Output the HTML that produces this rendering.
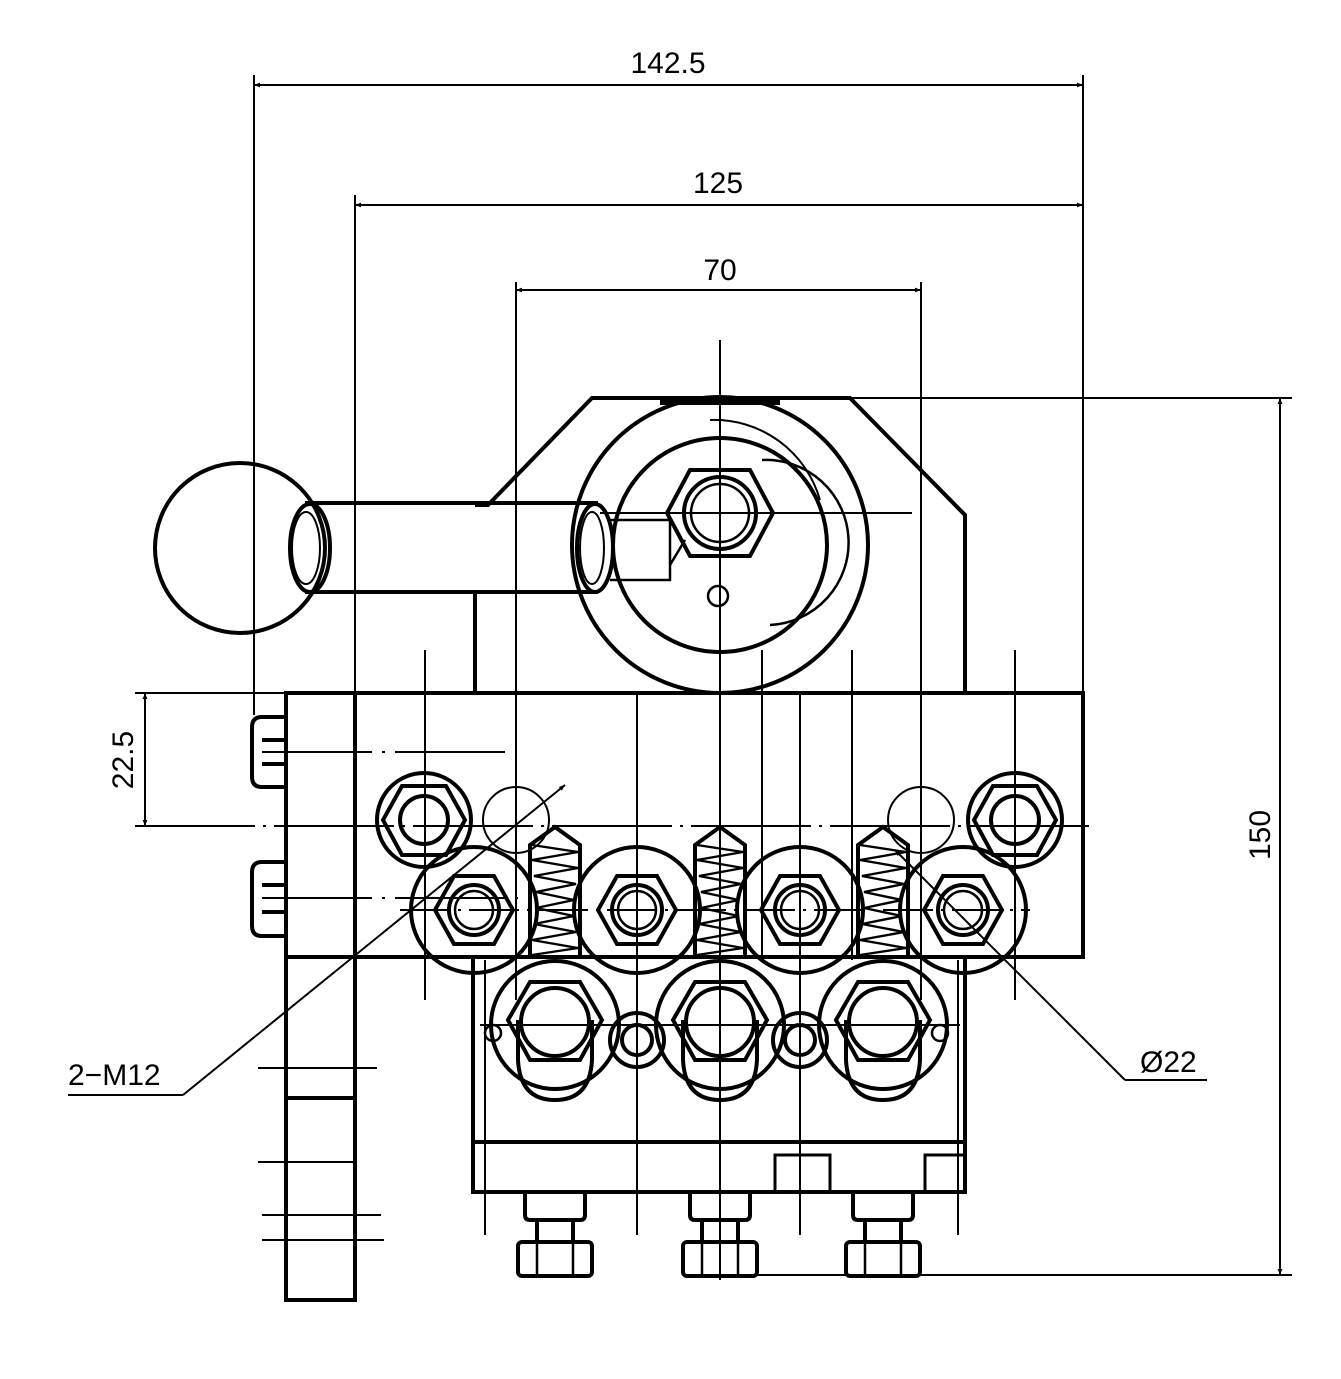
<!DOCTYPE html>
<html><head><style>html,body{margin:0;padding:0;background:#fff}svg{display:block}</style></head>
<body>
<svg width="1341" height="1379" viewBox="0 0 1341 1379" xmlns="http://www.w3.org/2000/svg" fill="none" stroke="#000" font-family="Liberation Sans, sans-serif">
<defs>
<marker id="a" viewBox="0 0 10 10" refX="10" refY="5" markerWidth="14" markerHeight="6" orient="auto-start-reverse" markerUnits="userSpaceOnUse"><path d="M0,1 L10,5 L0,9 Z" fill="#000" stroke="none"/></marker>
</defs>
<g stroke-width="2">
<line x1="254" y1="85" x2="1083" y2="85" marker-start="url(#a)" marker-end="url(#a)"/>
<line x1="254" y1="75" x2="254" y2="715"/>
<line x1="1083" y1="75" x2="1083" y2="693"/>
<line x1="355" y1="205" x2="1083" y2="205" marker-start="url(#a)" marker-end="url(#a)"/>
<line x1="355" y1="195" x2="355" y2="693"/>
<line x1="516" y1="290" x2="921" y2="290" marker-start="url(#a)" marker-end="url(#a)"/>
<line x1="516" y1="282" x2="516" y2="1000"/>
<line x1="921" y1="282" x2="921" y2="1000"/>
<line x1="1280" y1="398" x2="1280" y2="1275" marker-start="url(#a)" marker-end="url(#a)"/>
<line x1="850" y1="398" x2="1292" y2="398"/>
<line x1="750" y1="1275" x2="1292" y2="1275"/>
<line x1="145" y1="693" x2="145" y2="826" marker-start="url(#a)" marker-end="url(#a)"/>
<line x1="135" y1="693" x2="286" y2="693"/>
<line x1="135" y1="826" x2="1090" y2="826" stroke-dasharray="120 8 3 8"/>
<line x1="720" y1="340" x2="720" y2="1280"/>
<line x1="600" y1="513" x2="912" y2="513"/>
<line x1="425" y1="650" x2="425" y2="1000"/>
<line x1="1015" y1="650" x2="1015" y2="1000"/>
<line x1="637" y1="695" x2="637" y2="1235"/>
<line x1="800" y1="695" x2="800" y2="1235"/>
<line x1="762" y1="650" x2="762" y2="960"/>
<line x1="852" y1="650" x2="852" y2="960"/>
<line x1="262" y1="752" x2="505" y2="752" stroke-dasharray="110 10 3 10"/>
<line x1="262" y1="898" x2="520" y2="898" stroke-dasharray="110 10 3 10"/>
<line x1="400" y1="910" x2="1030" y2="910" stroke-dasharray="50 8 3 8"/>
<line x1="480" y1="1025" x2="960" y2="1025"/>
<line x1="485" y1="960" x2="485" y2="1235"/>
<line x1="958" y1="960" x2="958" y2="1235"/>
<line x1="68" y1="1095" x2="183" y2="1095"/>
<line x1="183" y1="1095" x2="565" y2="785" marker-end="url(#a)"/>
<line x1="1125" y1="1080" x2="1207" y2="1080"/>
<line x1="1125" y1="1080" x2="895" y2="850" marker-end="url(#a)"/>
<line x1="258" y1="1068" x2="377" y2="1068"/>
<line x1="258" y1="1162" x2="355" y2="1162"/>
<line x1="262" y1="1215" x2="381" y2="1215"/>
<line x1="262" y1="1240" x2="384" y2="1240"/>
<g stroke-width="2.4">
<path id="sp" d="M532,845 L578,852 L532,860 L578,868 L534,876 L576,884 L536,892 L574,900 L536,908 L574,916 L534,924 L576,932 L532,940 L578,948 L532,955"/>
<use href="#sp" x="165"/>
<use href="#sp" x="328"/>
</g>
</g>
<g stroke-width="4">
<path d="M475,693 L475,590 M475,505 L488,505 L592,398 L850,398 L965,515 L965,693"/>
<line x1="660" y1="402" x2="780" y2="402" stroke-width="6"/>
<circle cx="720" cy="545" r="148"/>
<circle cx="720" cy="545" r="107"/>
<polygon points="690,470 750,470 773,513 750,556 690,556 667,513"/>
<circle cx="720" cy="513" r="36"/>
<circle cx="720" cy="513" r="29" stroke-width="2.5"/>
<circle cx="718" cy="596" r="10" stroke-width="2.5"/>
<path d="M610,520 L670,520 L670,580 L610,580 M670,565 L685,540" stroke-width="2.5"/>
<path d="M762,460 A80,80 0 0 1 770,625" stroke-width="2.5"/>
<path d="M710,420 A110,110 0 0 1 820,500" stroke-width="2"/>
<circle cx="240" cy="548" r="85"/>
<path d="M305,503 L598,503 M305,592 L598,592"/>
<ellipse cx="310" cy="548" rx="20" ry="44"/>
<ellipse cx="595" cy="548" rx="18" ry="44"/>
<ellipse cx="306" cy="548" rx="14" ry="36" stroke-width="2"/>
<ellipse cx="592" cy="548" rx="12" ry="36" stroke-width="2"/>
<rect x="286" y="693" width="797" height="264"/>
<rect x="286" y="693" width="69" height="607"/>
<line x1="286" y1="1098" x2="355" y2="1098"/>
<path d="M286,717 L262,717 Q252,717 252,727 L252,777 Q252,787 262,787 L286,787 M286,740 L262,740 M286,764 L262,764"/>
<path d="M286,862 L262,862 Q252,862 252,872 L252,926 Q252,936 262,936 L286,936 M286,885 L262,885 M286,912 L262,912"/>
<circle cx="424" cy="820" r="47"/>
<polygon points="402,786 446,786 465,820 446,855 402,855 383,820"/>
<circle cx="424" cy="820" r="24"/>
<circle cx="1015" cy="820" r="47"/>
<polygon points="993,786 1037,786 1056,820 1037,855 993,855 974,820"/>
<circle cx="1015" cy="820" r="24"/>
<circle cx="516" cy="820" r="33" stroke-width="2"/>
<circle cx="921" cy="820" r="33" stroke-width="2"/>
<path d="M530,955 L530,845 L555,827 L580,845 L580,955"/>
<path d="M695,955 L695,845 L720,827 L745,845 L745,955"/>
<path d="M858,955 L858,845 L883,827 L908,845 L908,955"/>
<g id="mr">
<circle cx="474" cy="910" r="63"/>
<polygon points="454,876 494,876 513,910 494,944 454,944 435,910"/>
<circle cx="474" cy="910" r="25"/>
<circle cx="474" cy="910" r="19" stroke-width="2.5"/>
</g>
<use href="#mr" x="163"/>
<use href="#mr" x="326"/>
<use href="#mr" x="489"/>
<rect x="473" y="957" width="492" height="235"/>
<line x1="473" y1="1142" x2="965" y2="1142"/>
<g id="lr">
<circle cx="555" cy="1025" r="64"/>
<polygon points="530,982 580,982 602,1020 580,1060 530,1060 508,1020"/>
<circle cx="555" cy="1022" r="34"/>
<path d="M518,1020 L518,1060 Q520,1100 555,1100 Q590,1100 592,1060 L592,1020"/>
<path d="M525,1192 L525,1215 Q525,1220 530,1220 L580,1220 Q585,1220 585,1215 L585,1192"/>
<path d="M537,1222 L537,1242 M573,1222 L573,1242"/>
<rect x="518" y="1242" width="74" height="34" rx="4"/>
<line x1="537" y1="1242" x2="537" y2="1276" stroke-width="2.5"/>
<line x1="573" y1="1242" x2="573" y2="1276" stroke-width="2.5"/>
</g>
<use href="#lr" x="165"/>
<use href="#lr" x="328"/>
<circle cx="637" cy="1040" r="27"/>
<circle cx="637" cy="1040" r="15"/>
<circle cx="800" cy="1040" r="27"/>
<circle cx="800" cy="1040" r="15"/>
<circle cx="493" cy="1033" r="8" stroke-width="2.5"/>
<circle cx="940" cy="1033" r="8" stroke-width="2.5"/>
<rect x="775" y="1155" width="55" height="37" stroke-width="3"/>
<rect x="925" y="1155" width="40" height="37" stroke-width="3"/>
</g>
<g fill="#000" stroke="none" font-size="30">
<text x="668" y="73" text-anchor="middle">142.5</text>
<text x="718" y="193" text-anchor="middle">125</text>
<text x="720" y="280" text-anchor="middle">70</text>
<text x="68" y="1085">2−M12</text>
<text x="1140" y="1072">Ø22</text>
<text transform="translate(133,760) rotate(-90)" text-anchor="middle">22.5</text>
<text transform="translate(1270,835) rotate(-90)" text-anchor="middle">150</text>
</g>
</svg>
</body></html>
